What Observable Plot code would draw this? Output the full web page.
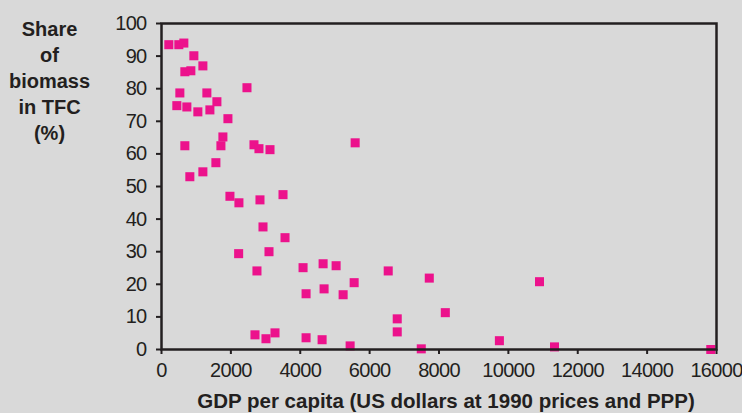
<!DOCTYPE html>
<html>
<head>
<meta charset="utf-8">
<script src="https://cdn.jsdelivr.net/npm/d3@7"></script>
<script src="https://cdn.jsdelivr.net/npm/@observablehq/plot@0.6"></script>
<style>
  html, body { margin: 0; padding: 0; background: #d9d9d9; }
  #chart svg { display: block; }
  #chart svg g[aria-label="x-axis tick label"] text,
  #chart svg g[aria-label="y-axis tick label"] text { letter-spacing: -0.7px; }
</style>
</head>
<body>
<div id="chart"></div>
<script>
// GDP per capita (US dollars at 1990 prices and PPP)
const gdp = [211,500,644,933,1193,673,846,529,1308,2464,1597,442,731,1048,1395,1915,1770,673,1713,2666,2810,3128,5583,1568,1193,817,1973,2232,2839,3503,2926,3561,2224,3099,2752,4081,4659,5034,6536,7720,10897,4168,4687,5236,5554,8182,6796,6796,2695,3012,3272,4168,4630,5438,7489,9741,11330,15835];
// Share of biomass in TFC (%)
const share = [93.5,93.5,94.0,90.1,87.0,85.2,85.5,78.7,78.7,80.3,76.0,74.8,74.4,72.9,73.5,70.8,65.2,62.5,62.5,62.8,61.6,61.3,63.4,57.3,54.5,53.0,47.0,45.0,45.9,47.5,37.6,34.3,29.4,30.0,24.1,25.1,26.3,25.7,24.1,21.9,20.8,17.1,18.6,16.8,20.5,11.3,9.4,5.4,4.5,3.3,5.1,3.6,3.0,1.1,0.2,2.7,0.8,0];

const xTicks = [0,2000,4000,6000,8000,10000,12000,14000,16000];
const yTicks = [0,10,20,30,40,50,60,70,80,90,100];
const xTitle = ["GDP per capita (US dollars at 1990 prices and PPP)"];
const yTitle = ["Share\nof\nbiomass\nin TFC\n(%)"];

const ink = "#231f20";
const pink = "#ec128c";

const points = gdp.map((g, i) => ({gdp: g, share: share[i]}));

const chart = Plot.plot({
  width: 742,
  height: 413,
  marginLeft: 161,
  marginRight: 26,
  marginTop: 23,
  marginBottom: 64,
  style: {background: "#d9d9d9", fontFamily: "'Liberation Sans', Arial, sans-serif", color: ink},
  x: {domain: [0, 16000], axis: null},
  y: {domain: [0, 100], axis: null},
  marks: [
    Plot.axisX(xTicks, {tickSize: 5, tickPadding: 8, fontSize: 20, stroke: ink, strokeWidth: 2, fill: ink, label: null, tickFormat: d => String(d)}),
    Plot.axisY(yTicks, {tickSize: 5, tickPadding: 10, fontSize: 20, stroke: ink, strokeWidth: 2, fill: ink, label: null, tickFormat: d => String(d)}),
    Plot.dot(points, {x: "gdp", y: "share", symbol: "square", r: 5.1, fill: pink, stroke: "none"}),
    Plot.frame({stroke: ink, strokeWidth: 2.5}),
    Plot.text(xTitle, {text: d => d, frameAnchor: "bottom", dx: 7, dy: 44, lineAnchor: "top", fontSize: 20.5, fontWeight: "bold", fill: ink}),
    Plot.text(yTitle, {text: d => d, frameAnchor: "top-left", dx: -112, dy: -6, lineAnchor: "top", textAnchor: "middle", lineHeight: 1.3, fontSize: 20, fontWeight: "bold", fill: ink})
  ]
});
document.getElementById("chart").appendChild(chart);
</script>
</body>
</html>
